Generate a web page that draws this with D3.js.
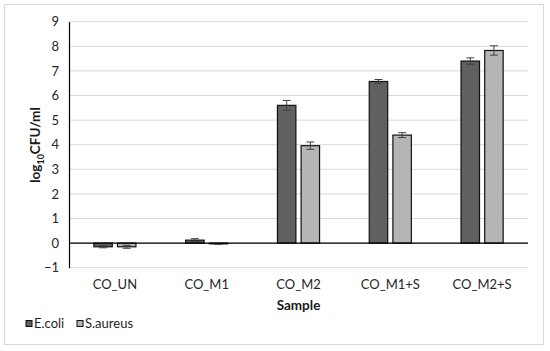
<!DOCTYPE html>
<html>
<head>
<meta charset="utf-8">
<script src="https://cdn.jsdelivr.net/npm/d3@7"></script>
<style>
  body { margin: 0; background: #fff; }
  svg text { font-family: Lato, "Open Sans", sans-serif; fill: #1a1a1a; }
</style>
</head>
<body>
<div id="chart"></div>
<script>
// Chart data
const samples = ['CO_UN', 'CO_M1', 'CO_M2', 'CO_M1+S', 'CO_M2+S'];
const seriesNames = ['E.coli', 'S.aureus'];
const ecoli = [-0.15, 0.12, 5.6, 6.57, 7.4];
const ecoliErr = [0.04, 0.06, 0.2, 0.08, 0.13];
const saureus = [-0.15, -0.03, 3.96, 4.39, 7.83];
const saureusErr = [0.06, 0.02, 0.15, 0.1, 0.19];
const yTicks = [-1, 0, 1, 2, 3, 4, 5, 6, 7, 8, 9];

const colors = ['#606060', '#b5b5b5'];

const W = 550, H = 351;
const plot = { left: 69, right: 528, top: 21.7, bottom: 267.7 };

const svg = d3.select('#chart').append('svg')
    .attr('width', W)
    .attr('height', H);

// Outer frame
svg.append('rect')
    .attr('x', 4.5).attr('y', 4.5)
    .attr('width', 539).attr('height', 340)
    .attr('fill', '#fff')
    .attr('stroke', '#d9d9d9')
    .attr('stroke-width', 1);

const x0 = d3.scaleBand()
    .domain(samples)
    .range([plot.left, plot.right]);

const x1 = d3.scaleBand()
    .domain(seriesNames)
    .range([0, x0.bandwidth()])
    .paddingInner(0.22)
    .paddingOuter(1.05);

const y = d3.scaleLinear()
    .domain([-1, 9])
    .range([plot.bottom, plot.top]);

// Gridlines
svg.append('g')
    .selectAll('line')
    .data(yTicks)
    .enter()
    .append('line')
    .attr('x1', plot.left).attr('x2', plot.right)
    .attr('y1', d => y(d)).attr('y2', d => y(d))
    .attr('stroke', '#d9d9d9')
    .attr('stroke-width', 1);

// Y axis
const yAxis = svg.append('g')
    .attr('transform', `translate(${plot.left},0)`)
    .call(d3.axisLeft(y).tickValues(yTicks).tickSize(0).tickPadding(10).tickFormat(d3.format('d')));
yAxis.select('.domain').attr('stroke', '#000').attr('stroke-width', 1.2);
yAxis.selectAll('text').style('font-size', '13px').style('fill', '#262626');

const data = samples.map((s, i) => ({
    sample: s,
    values: [
        { name: seriesNames[0], v: ecoli[i], e: ecoliErr[i], c: colors[0] },
        { name: seriesNames[1], v: saureus[i], e: saureusErr[i], c: colors[1] }
    ]
}));

const groups = svg.append('g')
    .selectAll('g')
    .data(data)
    .enter()
    .append('g')
    .attr('transform', d => `translate(${x0(d.sample)},0)`);

groups.selectAll('rect')
    .data(d => d.values)
    .enter()
    .append('rect')
    .attr('x', d => x1(d.name))
    .attr('y', d => y(Math.max(0, d.v)))
    .attr('width', x1.bandwidth())
    .attr('height', d => Math.abs(y(d.v) - y(0)))
    .attr('fill', d => d.c)
    .attr('stroke', '#111')
    .attr('stroke-width', 1.2);

// Error bars
const err = groups.selectAll('g.err')
    .data(d => d.values)
    .enter()
    .append('g')
    .attr('class', 'err')
    .attr('stroke', '#404040')
    .attr('stroke-width', 1);

err.append('line')
    .attr('x1', d => x1(d.name) + x1.bandwidth() / 2)
    .attr('x2', d => x1(d.name) + x1.bandwidth() / 2)
    .attr('y1', d => y(d.v - d.e))
    .attr('y2', d => y(d.v + d.e));
[-1, 1].forEach(s => {
    err.append('line')
        .attr('x1', d => x1(d.name) + x1.bandwidth() / 2 - 4)
        .attr('x2', d => x1(d.name) + x1.bandwidth() / 2 + 4)
        .attr('y1', d => y(d.v + s * d.e))
        .attr('y2', d => y(d.v + s * d.e));
});

// Zero line
svg.append('line')
    .attr('x1', plot.left).attr('x2', plot.right)
    .attr('y1', y(0)).attr('y2', y(0))
    .attr('stroke', '#000')
    .attr('stroke-width', 1.2);

// Category labels
svg.append('g')
    .selectAll('text')
    .data(samples)
    .enter()
    .append('text')
    .attr('x', d => x0(d) + x0.bandwidth() / 2)
    .attr('y', 289)
    .attr('text-anchor', 'middle')
    .style('font-size', '13px')
    .style('fill', '#262626')
    .text(d => d);

// X axis title
svg.append('text')
    .attr('x', (plot.left + plot.right) / 2)
    .attr('y', 310)
    .attr('text-anchor', 'middle')
    .style('font-size', '13.5px')
    .style('font-weight', 'bold')
    .text('Sample');

// Y axis title
const yt = svg.append('text')
    .attr('transform', 'translate(40,145) rotate(-90)')
    .attr('text-anchor', 'middle')
    .style('font-size', '13.5px')
    .style('font-weight', 'bold');
yt.append('tspan').text('log');
yt.append('tspan').attr('dy', 4).style('font-size', '9px').text('10');
yt.append('tspan').attr('dy', -4).text('CFU/ml');

// Legend
const legend = svg.append('g')
    .attr('transform', 'translate(26,320)');
let lx = 0;
seriesNames.forEach((n, i) => {
    const item = legend.append('g').attr('transform', `translate(${lx},0)`);
    item.append('rect')
        .attr('width', 6).attr('height', 6)
        .attr('y', 0.5)
        .attr('fill', colors[i])
        .attr('stroke', '#111')
        .attr('stroke-width', 1);
    item.append('text')
        .attr('x', 8).attr('y', 8)
        .style('font-size', '13px')
        .style('fill', '#262626')
        .text(n);
    lx += 51;
});
</script>
</body>
</html>
